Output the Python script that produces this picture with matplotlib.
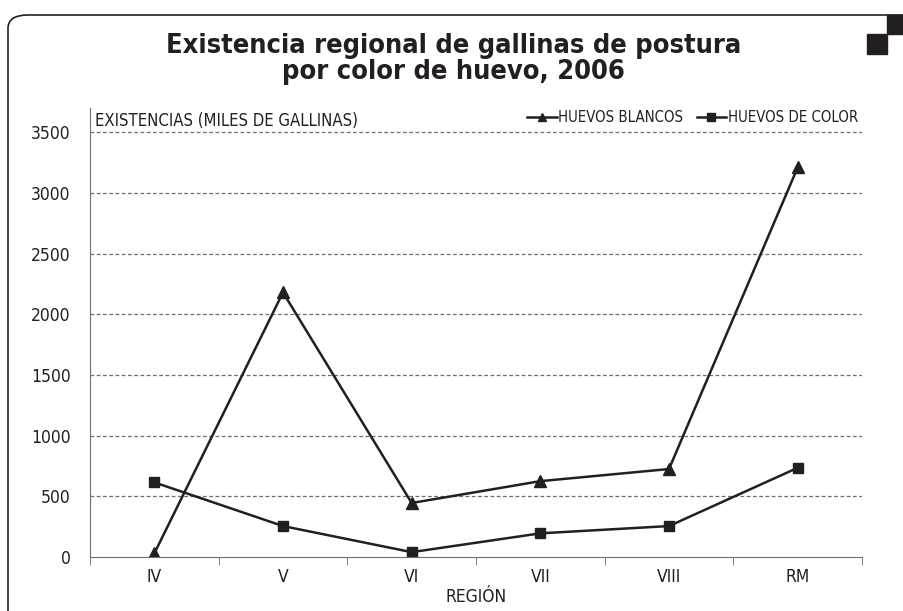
import matplotlib
matplotlib.use("Agg")
import matplotlib.pyplot as plt
from matplotlib.patches import FancyBboxPatch, Rectangle

plt.rcParams['font.family'] = ['DejaVu Sans']
plt.rcParams['font.stretch'] = 'condensed'

regiones = ["IV", "V", "VI", "VII", "VIII", "RM"]
blancos = [30, 2180, 445, 625, 725, 3210]
color = [615, 255, 40, 195, 255, 735]
yticks = [0, 500, 1000, 1500, 2000, 2500, 3000, 3500]

tinta = "#231f20"
gris = "#6d6e71"

fig = plt.figure(figsize=(9.04, 6.11), dpi=100)

# marco redondeado (solo se ve izquierda y arriba)
marco = FancyBboxPatch((8 / 904, 1 - 1200 / 611), 1.5, 1185 / 611,
                       boxstyle="round,pad=0,rounding_size=0.022",
                       transform=fig.transFigure, fill=False,
                       edgecolor=tinta, linewidth=1.2, clip_on=False)
fig.patches.append(marco)
fig.patches.append(Rectangle((887 / 904, 1 - 34 / 611), 17 / 904, 19 / 611,
                             transform=fig.transFigure, color=tinta))
fig.patches.append(Rectangle((867 / 904, 1 - 54 / 611), 20 / 904, 20 / 611,
                             transform=fig.transFigure, color=tinta))

fig.text(0.502, 1 - 59 / 611, "Existencia regional de gallinas de postura\npor color de huevo, 2006",
         ha="center", va="center", fontsize=19.5, fontweight="bold", color=tinta,
         linespacing=0.98)

ax = fig.add_axes([90 / 904, 1 - 557 / 611, 772 / 904, 449 / 611])
x = range(len(regiones))
ax.plot(x, blancos, color=tinta, lw=1.8, marker="^", ms=8, label="HUEVOS BLANCOS")
ax.plot(x, color, color=tinta, lw=1.8, marker="s", ms=7, label="HUEVOS DE COLOR")

ax.set_xlim(-0.5, len(regiones) - 0.5)
ax.set_ylim(0, 3700)
ax.set_yticks(yticks)
ax.set_yticklabels([str(v) for v in yticks])
for v in yticks[1:]:
    ax.axhline(v, color=gris, lw=0.9, ls=(0, (3, 2)), zorder=0)

ax.set_xticks(x)
ax.set_xticklabels(regiones)
ax.set_xticks([i - 0.5 for i in range(len(regiones) + 1)], minor=True)
ax.tick_params(axis="x", which="major", length=0, pad=8, labelsize=12.5, labelcolor=tinta)
ax.tick_params(axis="x", which="minor", length=6, direction="out", color=gris)
ax.tick_params(axis="y", length=0, pad=14, labelsize=12.5, labelcolor=tinta)
ax.set_xlabel("REGIÓN", fontsize=12.5, color=tinta, labelpad=1)

for s in ["top", "right"]:
    ax.spines[s].set_visible(False)
ax.spines["left"].set_color(gris)
ax.spines["bottom"].set_color(gris)

ax.text(0.007, 0.97, "EXISTENCIAS (MILES DE GALLINAS)", transform=ax.transAxes,
        ha="left", va="center", fontsize=12, color=tinta)

leg = ax.legend(loc="upper right", bbox_to_anchor=(1.012, 1.025), ncol=2, frameon=False,
                fontsize=10.7, handlelength=2.0, handletextpad=0.1, columnspacing=0.9,
                markerscale=0.8)
for t in leg.get_texts():
    t.set_color(tinta)

fig.savefig("out.png", dpi=100)
